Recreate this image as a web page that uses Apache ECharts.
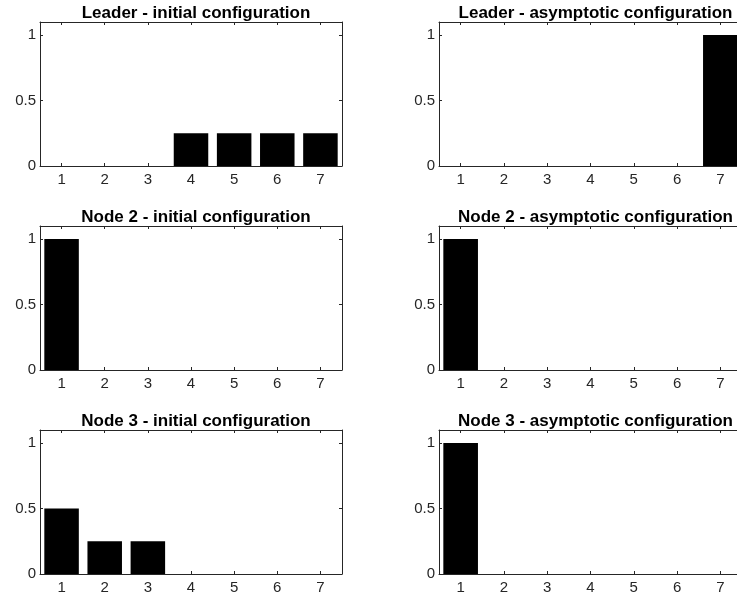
<!DOCTYPE html>
<html>
<head>
<meta charset="utf-8">
<script src="https://cdn.jsdelivr.net/npm/echarts@6/dist/echarts.min.js"></script>
<style>
  html, body { margin: 0; padding: 0; background: #fff; }
  #chart { width: 737px; height: 600px; }
</style>
</head>
<body>
<div id="chart"></div>
<script>
// Opinion states 1..7 for each node
const states = ['1', '2', '3', '4', '5', '6', '7'];

const leaderInitial     = [0, 0, 0, 0.25, 0.25, 0.25, 0.25];
const leaderAsymptotic  = [0, 0, 0, 0, 0, 0, 1];
const node2Initial      = [1, 0, 0, 0, 0, 0, 0];
const node2Asymptotic   = [1, 0, 0, 0, 0, 0, 0];
const node3Initial      = [0.5, 0.25, 0.25, 0, 0, 0, 0];
const node3Asymptotic   = [1, 0, 0, 0, 0, 0, 0];

const panelTitles = [
  'Leader - initial configuration', 'Leader - asymptotic configuration',
  'Node 2 - initial configuration', 'Node 2 - asymptotic configuration',
  'Node 3 - initial configuration', 'Node 3 - asymptotic configuration'
];
const panelData = [
  leaderInitial, leaderAsymptotic,
  node2Initial, node2Asymptotic,
  node3Initial, node3Asymptotic
];

const yTicks = [0, 0.5, 1];

// layout of the 3x2 panel grid
const colLeft = [40, 439];
const colWidth = [302, 303];
const rowTop = [22, 226, 430];
const panelHeight = 144;

const axisColor = '#262626';
const font = 'Liberation Sans, Arial, Helvetica, sans-serif';

const grids = [], xAxes = [], yAxes = [], series = [], titles = [];

panelData.forEach((values, i) => {
  const r = Math.floor(i / 2), c = i % 2;
  const g = grids.length;
  grids.push({
    left: colLeft[c], top: rowTop[r], width: colWidth[c], height: panelHeight,
    containLabel: false, outerBoundsMode: 'none'
  });

  titles.push({
    text: panelTitles[i],
    left: colLeft[c] + colWidth[c] / 2,
    top: rowTop[r] - 22,
    textAlign: 'center',
    textStyle: { fontFamily: font, fontSize: 17, fontWeight: 'bold', color: '#000' }
  });

  const line = { show: true, onZero: false, lineStyle: { color: axisColor, width: 1 } };
  const tick = { show: true, inside: true, length: 3, lineStyle: { color: axisColor } };
  // bottom axis with labels
  xAxes.push({
    type: 'category', gridIndex: g, position: 'bottom', data: states,
    boundaryGap: true,
    axisLine: line,
    axisTick: Object.assign({ alignWithLabel: true }, tick),
    axisLabel: { show: true, color: axisColor, fontFamily: font, fontSize: 15, margin: 6 },
    splitLine: { show: false }
  });
  // top box edge with mirrored ticks
  xAxes.push({
    type: 'category', gridIndex: g, position: 'top', data: states,
    boundaryGap: true,
    axisLine: line,
    axisTick: Object.assign({ alignWithLabel: true }, tick),
    axisLabel: { show: false },
    splitLine: { show: false }
  });
  const yBase = {
    type: 'value', gridIndex: g, min: 0, max: 1.1,
    axisLine: line,
    splitLine: { show: false }
  };
  yAxes.push(Object.assign({}, yBase, {
    position: 'left',
    axisTick: Object.assign({ customValues: yTicks }, tick),
    axisLabel: {
      show: true, color: axisColor, fontFamily: font, fontSize: 15, margin: 4,
      customValues: yTicks
    }
  }));
  yAxes.push(Object.assign({}, yBase, {
    position: 'right',
    axisTick: Object.assign({ customValues: yTicks }, tick),
    axisLabel: { show: false }
  }));

  series.push({
    type: 'bar',
    xAxisIndex: 2 * g,
    yAxisIndex: 2 * g,
    data: values,
    barWidth: '80%',
    itemStyle: { color: '#000' },
    silent: true,
    animation: false
  });
});

const chart = echarts.init(document.getElementById('chart'), null, { renderer: 'canvas' });
chart.setOption({
  backgroundColor: '#fff',
  animation: false,
  title: titles,
  grid: grids,
  xAxis: xAxes,
  yAxis: yAxes,
  series: series
});
</script>
</body>
</html>
